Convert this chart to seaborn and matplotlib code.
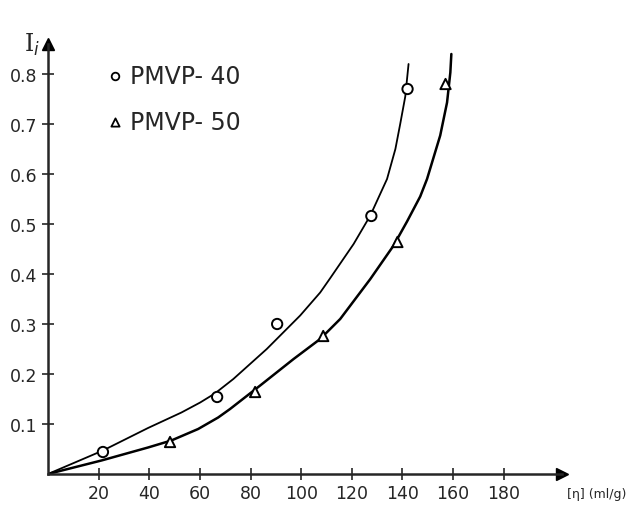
import matplotlib
matplotlib.use("Agg")
import matplotlib.pyplot as plt
import seaborn as sns
import pandas as pd

# measured points
pmvp40_x = [21.7, 66.8, 90.5, 127.7, 142.0]
pmvp40_y = [0.044, 0.154, 0.300, 0.516, 0.770]
pmvp50_x = [48.2, 81.8, 108.7, 138.0, 157.0]
pmvp50_y = [0.064, 0.164, 0.276, 0.464, 0.780]

# hand-drawn curves
curve40_x = [0, 21.7, 39.5, 52.7, 60.1, 65.9, 73.2, 86.4, 99.6, 107.5, 111.5, 120.7, 127.3,
             133.9, 137.2, 139.1, 141.1, 142.4]
curve40_y = [0, 0.047, 0.092, 0.123, 0.143, 0.161, 0.19, 0.25, 0.317, 0.363, 0.392, 0.46, 0.517,
             0.59, 0.65, 0.70, 0.755, 0.82]
curve50_x = [0, 21.1, 39.5, 48.7, 59.3, 67.2, 71.9, 83.8, 97, 107.5, 115.4, 127.3, 136.5, 141.8,
             147, 149.7, 154.9, 157.6, 158.9, 159.3]
curve50_y = [0, 0.027, 0.053, 0.067, 0.09, 0.113, 0.13, 0.177, 0.23, 0.27, 0.31, 0.39, 0.457, 0.505,
             0.555, 0.59, 0.677, 0.743, 0.803, 0.84]

xticks = [20, 40, 60, 80, 100, 120, 140, 160, 180]
yticks = [0.1, 0.2, 0.3, 0.4, 0.5, 0.6, 0.7, 0.8]

sns.set_style("ticks")
plt.rcParams['font.family'] = ['DejaVu Sans']

fig = plt.figure(figsize=(6.37, 5.10), dpi=100)
ax = fig.add_axes([48 / 637, 35 / 510, 514 / 637, 430 / 510])

sns.lineplot(x=curve40_x, y=curve40_y, ax=ax, color='black', lw=1.3, sort=False, estimator=None)
sns.lineplot(x=curve50_x, y=curve50_y, ax=ax, color='black', lw=1.8, sort=False, estimator=None)

pts = pd.DataFrame({
    'x': pmvp40_x + pmvp50_x,
    'y': pmvp40_y + pmvp50_y,
    'series': ['PMVP-40'] * len(pmvp40_x) + ['PMVP-50'] * len(pmvp50_x),
})
sns.scatterplot(data=pts, x='x', y='y', style='series', markers={'PMVP-40': 'o', 'PMVP-50': '^'},
                s=55, facecolor='white', edgecolor='black', linewidth=1.4, ax=ax, zorder=3, legend=False)

ax.set_xlim(0, 203)
ax.set_ylim(0, 0.86)
ax.set_xticks(xticks)
ax.set_yticks(yticks)
ax.set_yticklabels([f'{v:.1f}' for v in yticks])
ax.tick_params(direction='inout', length=8, width=1.2, labelsize=12.5)
ax.set_xlabel('')
ax.set_ylabel('')
sns.despine(ax=ax)
for side in ['left', 'bottom']:
    ax.spines[side].set_linewidth(1.8)

# arrow heads on the axes
ax.plot(1, 0, '>k', ms=9, transform=ax.get_yaxis_transform(), clip_on=False)
ax.plot(0, 1, '^k', ms=9, transform=ax.get_xaxis_transform(), clip_on=False)

ax.text(-0.015, 1.0, 'I$_i$', transform=ax.transAxes, fontsize=17, ha='right', va='center',
        family='DejaVu Serif')
ax.text(1.01, -0.045, '[η] (ml/g)', transform=ax.transAxes, fontsize=9, ha='left', va='center')

# legend
ax.scatter([0.13], [0.925], marker='o', s=30, facecolor='white', edgecolor='black', lw=1.3,
           transform=ax.transAxes, clip_on=False)
ax.scatter([0.13], [0.818], marker='^', s=35, facecolor='white', edgecolor='black', lw=1.3,
           transform=ax.transAxes, clip_on=False)
ax.text(0.16, 0.925, 'PMVP- 40', transform=ax.transAxes, fontsize=17, va='center')
ax.text(0.16, 0.818, 'PMVP- 50', transform=ax.transAxes, fontsize=17, va='center')

plt.savefig('out.png', dpi=100)
